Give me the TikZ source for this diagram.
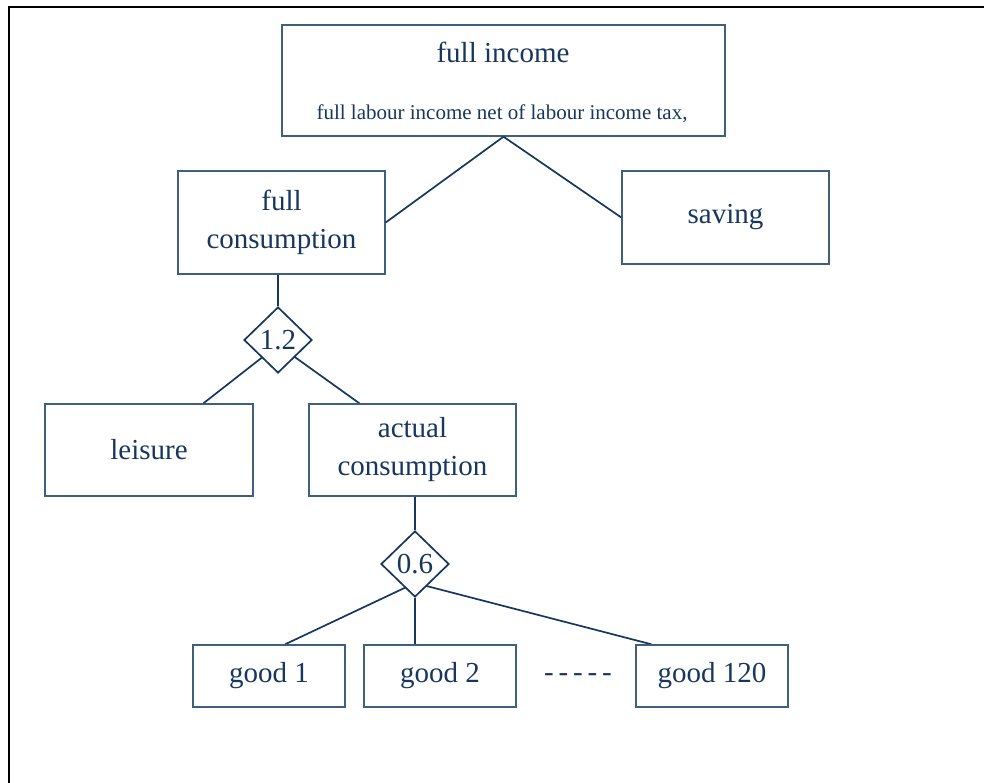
\documentclass[tikz,border=0pt]{standalone}
\usepackage{fontspec}
\setmainfont{Liberation Serif}
\usetikzlibrary{shapes.geometric,calc,backgrounds}
\definecolor{navy}{HTML}{17375E}
\definecolor{boxc}{HTML}{3F5F7F}
\newcommand\mfont{\fontsize{29}{38}\selectfont}
\newcommand\sfontx{\fontsize{21}{25}\selectfont}
\begin{document}
\begin{tikzpicture}[x=1pt,y=-1pt,
  box/.style={draw=boxc, line width=1.4pt, text=navy, font=\mfont, align=center, inner sep=0pt},
  txt/.style={text=navy, font=\mfont, inner sep=0pt},
  dia/.style={diamond, aspect=1, draw=navy, line width=1.7pt, fill=white, text=navy, font=\mfont,
              minimum width=68pt, minimum height=66pt, inner sep=0pt},
  conn/.style={draw=navy, line width=1.7pt}]
\useasboundingbox (0,0) rectangle (984,783);
\draw[black, line width=2pt] (9,784) -- (9,7) -- (985,7);

\node[box, minimum width=443pt, minimum height=111pt] (fi) at (503.5,80.5) {};
\node[txt, anchor=base] (fit) at (503,63) {full income};
\node[txt, font=\sfontx, anchor=base] (fis) at (502,120) {full labour income net of labour income tax,};

\node[box, minimum width=207pt, minimum height=103pt] (fc) at (281.5,222.5) {full\\consumption};
\node[box, minimum width=207pt, minimum height=93pt] (sv) at (725.5,217.5) {saving};
\node[dia] (d1) at (278,340) {1.2};
\node[box, minimum width=208pt, minimum height=92pt] (le) at (149,450) {leisure};
\node[box, minimum width=207pt, minimum height=92pt] (ac) at (412.5,450) {actual\\consumption};
\node[dia] (d2) at (415,564) {0.6};
\node[box, minimum width=152pt, minimum height=62pt] (g1) at (269,676) {good 1};
\node[box, minimum width=152pt, minimum height=62pt] (g2) at (440,676) {good 2};
\node[box, minimum width=152pt, minimum height=62pt] (g3) at (712,676) {good 120};
\node[txt] (dots) at (578,678) {-\,-\,-\,-\,-};

\coordinate (d1c) at ($(d1)+(0,5)$);
\coordinate (d2c) at ($(d2)+(0,19)$);

\draw[conn] (fi.south) -- (fc.east);
\draw[conn] (fi.south) -- (sv.west);
\draw[conn] (d1.north |- fc.south) -- (d1.north);
\draw[conn] (d2.north |- ac.south) -- (d2.north);
\draw[conn] (d2.south) -- (d2.south |- g2.north);
\begin{pgfonlayer}{background}
\draw[conn] (d1c) -- ($(le.north)!0.52!(le.north east)$);
\draw[conn] (d1c) -- ($(ac.north west)!0.49!(ac.north)$);
\draw[conn] (d2c) -- ($(g1.north)!0.21!(g1.north east)$);
\draw[conn] (d2c) -- ($(g3.north west)!0.21!(g3.north)$);
\end{pgfonlayer}
\end{tikzpicture}
\end{document}
